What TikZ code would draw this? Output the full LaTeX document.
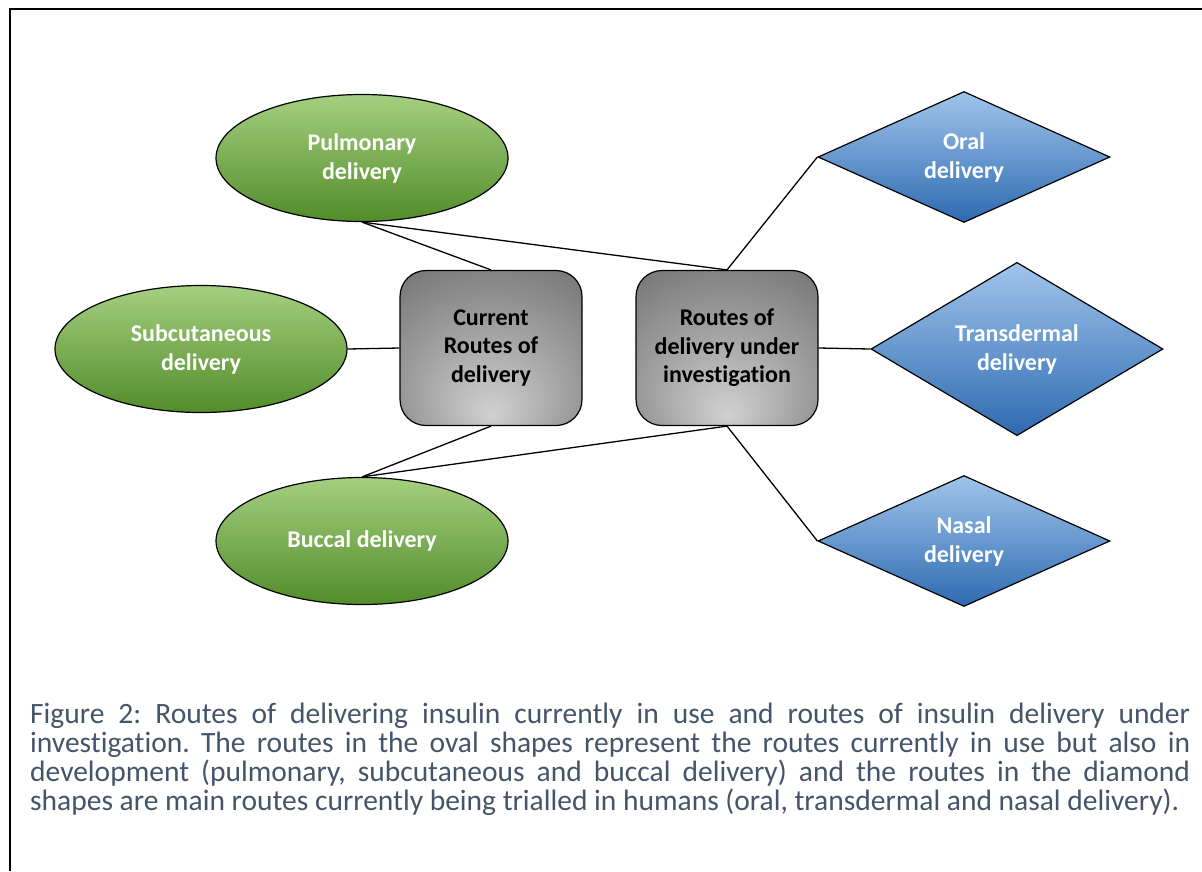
\documentclass[tikz,border=0pt]{standalone}
\usepackage{fontspec}
\setmainfont[Ligatures=NoCommon]{Carlito}
\usepackage{tikz}
\usetikzlibrary{shapes.geometric}

\definecolor{ovaltop}{RGB}{165,207,128}
\definecolor{ovalbot}{RGB}{82,140,42}
\definecolor{diamtop}{RGB}{160,197,236}
\definecolor{diambot}{RGB}{46,106,176}
\definecolor{captext}{RGB}{68,84,106}

% grey glow, lightest just above the bottom edge
\pgfdeclareradialshading{boxglow}{\pgfpoint{0bp}{-22bp}}{%
  color(0bp)=(black!18); color(22bp)=(black!38); color(45bp)=(black!58); color(60bp)=(black!62)}

\tikzset{
  oval/.style={ellipse, draw=black, line width=1.2pt, top color=ovaltop, bottom color=ovalbot,
    minimum width=292, minimum height=127, inner sep=0, align=center, text=white,
    font=\fontsize{24}{29}\selectfont\bfseries},
  hub/.style={rectangle, rounded corners=26, draw=black, line width=1.2pt, shading=boxglow,
    minimum width=182, minimum height=155, inner sep=0, align=center, text=black,
    font=\fontsize{24}{28.5}\selectfont\bfseries},
  trial/.style={diamond, draw=black, line width=1.2pt, top color=diamtop, bottom color=diambot,
    minimum width=292, minimum height=131, inner sep=0, align=center, text=white,
    font=\fontsize{24}{29}\selectfont\bfseries},
  link/.style={line width=1.3pt}
}

\begin{document}
\begin{tikzpicture}[x=1pt, y=-1pt]
	\useasboundingbox (0, 0) rectangle (1202, 871);
	% frame, only its top and left edges fall inside the page
	\draw [line width=2.2pt] (10, 871) -- (10, 9) -- (1202, 9);

	% routes in use
	\node [oval] (pulm) at (362, 158) {Pulmonary\\delivery};
	\node [oval] (subc) at (201, 349) {Subcutaneous\\delivery};
	\node [oval] (bucc) at (362, 541) {Buccal delivery};

	\node [hub] (cur) at (491, 348) {Current\\Routes of\\delivery};
	\node [hub] (inv) at (727, 348) {Routes of\\delivery under\\investigation};

	% routes being trialled
	\node [trial] (oral) at (964, 157) {Oral\\delivery};
	\node [trial] (trans) at (1017, 349) {Transdermal\\delivery};
	\node [trial] (nasal) at (964, 541) {Nasal\\delivery};

	\draw [link] (pulm.south) -- (cur.north);
	\draw [link] (pulm.south) -- (inv.north);
	\draw [link] (subc.east) -- (cur.west);
	\draw [link] (bucc.north) -- (cur.south);
	\draw [link] (bucc.north) -- (inv.south);
	\draw [link] (inv.north) -- (oral.west);
	\draw [link] (inv.east) -- (trans.west);
	\draw [link] (inv.south) -- (nasal.west);

	% caption: justified, lines broken by hand
	\node [anchor=north west, text width=1160, align=justify, inner sep=0, text=captext,
		font=\fontsize{29.5}{28.8}\selectfont] (caption) at (30, 703)
		{\frenchspacing\hyphenpenalty=10000 \tolerance=9999
		Figure 2: Routes of delivering insulin currently in use and routes of insulin delivery under\linebreak
		investigation. The routes in the oval shapes represent the routes currently in use but also in\linebreak
		development (pulmonary, subcutaneous and buccal delivery) and the routes in the diamond\linebreak
		shapes are main routes currently being trialled in humans (oral, transdermal and nasal delivery).};
\end{tikzpicture}
\end{document}
